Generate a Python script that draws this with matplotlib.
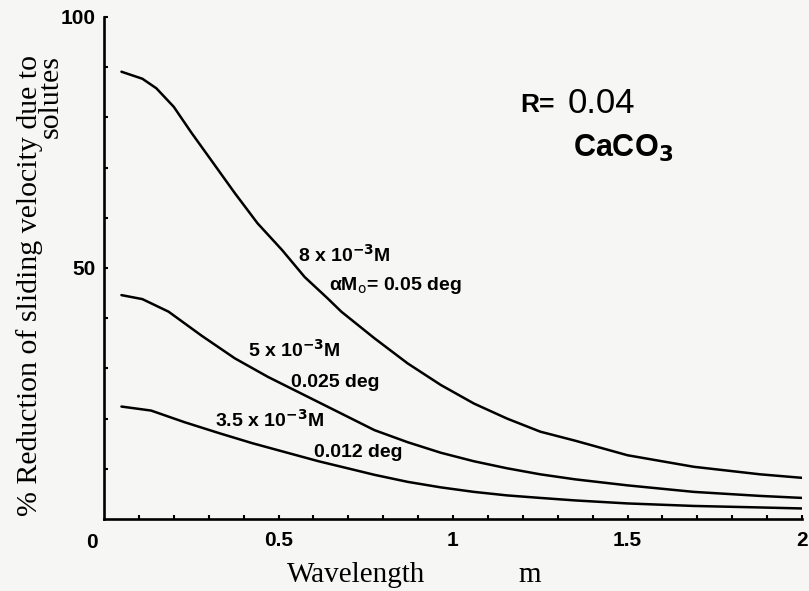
import matplotlib.pyplot as plt
import numpy as np

# curves (wavelength in m, % reduction)
x_8 = [0.05, 0.11, 0.15, 0.2, 0.25, 0.31, 0.375, 0.44, 0.51, 0.575, 0.64, 0.68,
       0.775, 0.87, 0.965, 1.06, 1.155, 1.25, 1.35, 1.5, 1.69, 1.88, 2.0]
y_8 = [89.1, 87.7, 85.8, 82.1, 77.0, 71.2, 64.9, 58.9, 53.6, 48.2, 44.0, 41.3,
       36.0, 31.0, 26.7, 23.0, 20.0, 17.4, 15.6, 12.7, 10.4, 8.9, 8.2]

x_5 = [0.05, 0.11, 0.185, 0.28, 0.375, 0.47, 0.565, 0.66, 0.775, 0.87, 0.965,
       1.06, 1.155, 1.25, 1.35, 1.5, 1.69, 1.88, 2.0]
y_5 = [44.6, 43.8, 41.3, 36.5, 32.0, 28.3, 25.0, 21.7, 17.7, 15.3, 13.2,
       11.5, 10.1, 8.9, 7.9, 6.7, 5.4, 4.6, 4.2]

x_35 = [0.05, 0.135, 0.23, 0.33, 0.425, 0.52, 0.615, 0.71, 0.775, 0.87, 0.965,
        1.06, 1.155, 1.25, 1.35, 1.5, 1.69, 1.88, 2.0]
y_35 = [22.4, 21.6, 19.3, 17.1, 15.1, 13.3, 11.5, 9.9, 8.8, 7.4, 6.3,
        5.4, 4.7, 4.2, 3.7, 3.1, 2.6, 2.3, 2.1]

xtick_vals = [0.5, 1, 1.5, 2]
xtick_labels = ['0.5', '1', '1.5', '2']
ytick_vals = [50, 100]
ytick_labels = ['50', '100']

bg = '#f6f7f4'
sans = 'Liberation Sans'
serif = 'Liberation Serif'

fig = plt.figure(figsize=(8.09, 5.91), dpi=100, facecolor=bg)
ax = fig.add_axes([104/809, 1 - 519/591, (802 - 104)/809, (519 - 17)/591])
ax.set_facecolor(bg)

for xs, ys in [(x_8, y_8), (x_5, y_5), (x_35, y_35)]:
    ax.plot(xs, ys, color='black', linewidth=1.8, solid_capstyle='round',
            solid_joinstyle='round')

ax.set_xlim(0, 2)
ax.set_ylim(0, 100)

for s in ['top', 'right']:
    ax.spines[s].set_visible(False)
for s in ['left', 'bottom']:
    ax.spines[s].set_linewidth(1.9)

ax.set_xticks(np.arange(0.1, 2.01, 0.1), minor=True)
ax.set_yticks(np.arange(10, 100, 10), minor=True)
ax.set_xticks(xtick_vals, xtick_labels)
ax.set_yticks(ytick_vals, ytick_labels)
ax.tick_params(which='both', direction='in', length=3, width=1.5, color='black')
ax.tick_params(axis='x', pad=9)
ax.tick_params(axis='y', pad=6)
for lab in ax.get_xticklabels() + ax.get_yticklabels():
    lab.set_fontfamily(sans)
    lab.set_fontweight('bold')
    lab.set_fontsize(15)

# origin label sits off the corner
ax.text(-0.017, -0.027, '0', transform=ax.transAxes, ha='center', va='top',
        fontsize=15, fontweight='bold', family=sans)

fig.text(40/809, 1 - 286/591, '% Reduction of sliding velocity due to\nsolutes',
         rotation=90, ha='center', va='center', multialignment='right',
         linespacing=0.75, fontsize=21.5, family=serif)
fig.text(287/809, 1 - 582/591, 'Wavelength', ha='left', va='baseline',
         fontsize=21, family=serif)
fig.text(518/809, 1 - 582/591, 'm', ha='left', va='baseline',
         fontsize=21, family=serif)

# annotations
ax.text(1.194, 81.1, 'R=', fontsize=19, fontweight='bold', family=sans, va='baseline')
ax.text(1.329, 80.9, '0.04', fontsize=25, family=sans, va='baseline')
ax.text(1.343, 72.1, r'CaCO$_\mathbf{3}$', fontsize=22, fontweight='bold', family=sans,
        va='baseline')

lab_kw = dict(fontsize=14, fontweight='bold', family=sans, va='baseline')
ax.text(0.557, 51.2, r'8 x 10$^{\mathbf{-3}}$M', **lab_kw)
ax.text(0.646, 45.6, r'αM$_\mathrm{o}$= 0.05 deg', **lab_kw)
ax.text(0.414, 32.3, r'5 x 10$^{\mathbf{-3}}$M', **lab_kw)
ax.text(0.537, 26.3, '0.025 deg', **lab_kw)
ax.text(0.317, 18.3, r'3.5 x 10$^{\mathbf{-3}}$M', **lab_kw)
ax.text(0.603, 12.4, '0.012 deg', **lab_kw)

fig.savefig('out.png', dpi=100, facecolor=bg)
